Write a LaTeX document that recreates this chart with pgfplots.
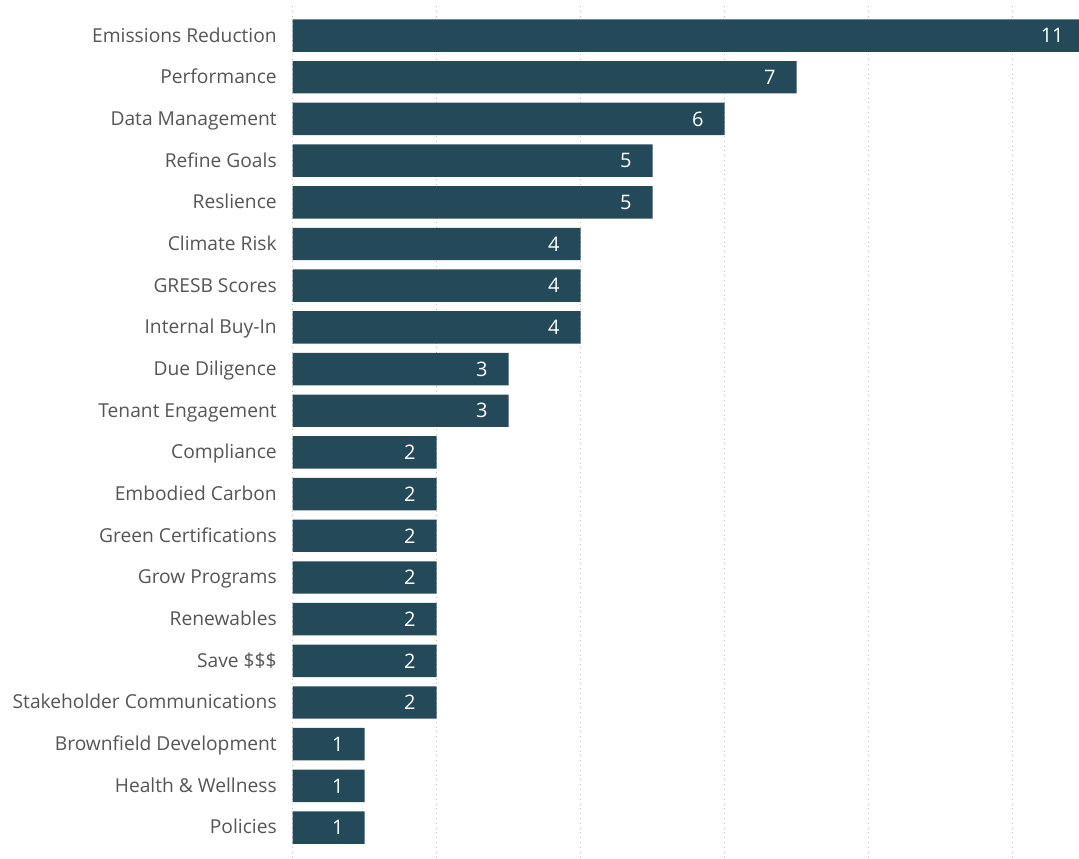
\documentclass[border=0pt]{standalone}
\usepackage{pgfplots}
\pgfplotsset{compat=1.18}
\usepackage{fontspec}
\setmainfont{Open Sans}
\definecolor{barc}{RGB}{36,73,89}
\definecolor{labc}{RGB}{85,85,85}
\begin{document}
\begin{tikzpicture}
\begin{axis}[
  xbar, scale only axis,
  width=393pt, height=425pt,
  xmin=0, xmax=10.92,
  ymin=-0.7, ymax=19.7,
  y dir=reverse,
  bar width=16.2pt,
  axis line style={draw=none},
  clip=false,
  xtick={0,2,4,6,8,10},
  xmajorgrids,
  grid style={dotted, gray!50, line width=0.5pt},
  ytick={0,...,19},
  yticklabels={Emissions Reduction,Performance,Data Management,Refine Goals,Reslience,Climate Risk,GRESB Scores,Internal Buy-In,Due Diligence,Tenant Engagement,Compliance,Embodied Carbon,Green Certifications,Grow Programs,Renewables,Save \$\$\$,Stakeholder Communications,Brownfield Development,Health \& Wellness,Policies},
  yticklabel style={font=\fontsize{9.6}{11}\selectfont, text=labc, inner sep=0pt, xshift=-7.8pt, text height=1.5ex, text depth=0.3ex},
  xticklabels={},
  major tick length=0pt,
  /pgf/number format/assume math mode=true,
  nodes near coords,
  nodes near coords style={font=\fontsize{10}{12}\selectfont, text=white, anchor=east, xshift=-7pt},
]
\addplot[fill=barc, draw=none] coordinates {
(11,0) (7,1) (6,2) (5,3) (5,4) (4,5) (4,6) (4,7) (3,8) (3,9)
(2,10) (2,11) (2,12) (2,13) (2,14) (2,15) (2,16) (1,17) (1,18) (1,19)};
\end{axis}
\pgfresetboundingbox
\useasboundingbox (-146.3pt,-0.8pt) rectangle (393pt,428.2pt);
\end{tikzpicture}
\end{document}
